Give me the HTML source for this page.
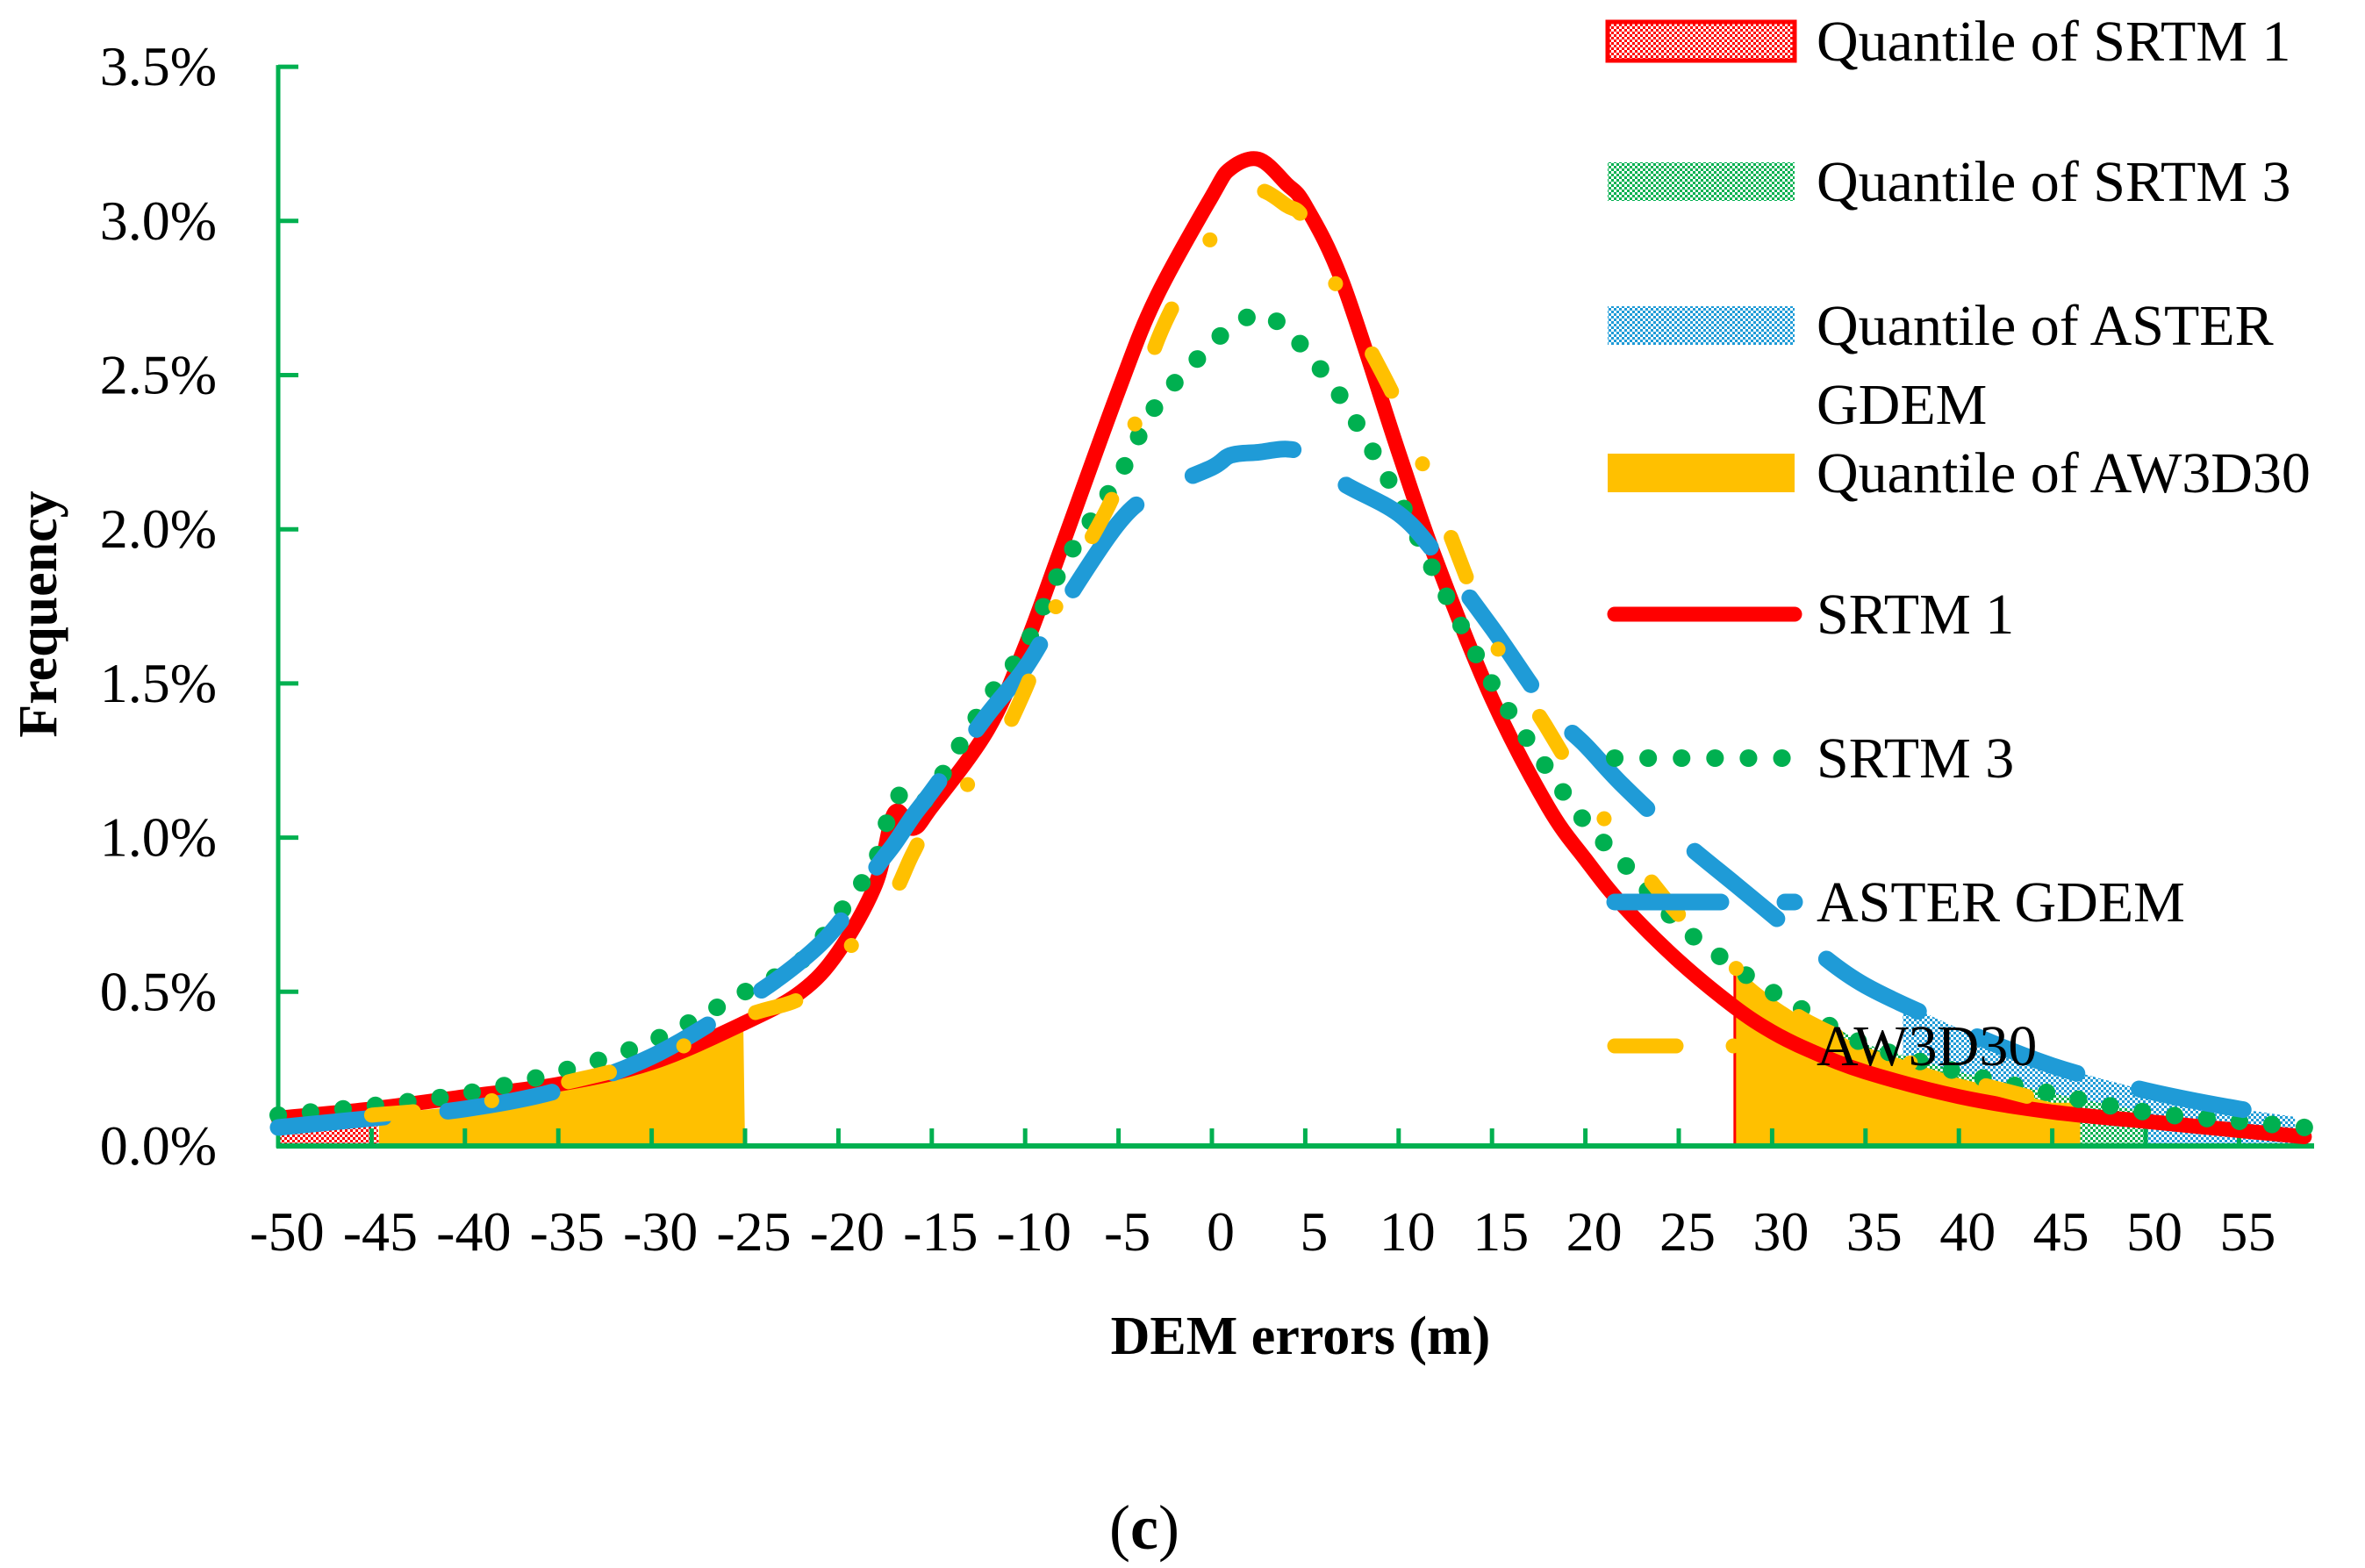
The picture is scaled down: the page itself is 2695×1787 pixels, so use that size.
<!DOCTYPE html>
<html><head><meta charset="utf-8"><title>DEM errors frequency (c)</title>
<style>
html,body{margin:0;padding:0;background:#fff;}
svg{display:block;}
text{font-family:"Liberation Serif","DejaVu Serif",serif;}
</style></head>
<body>
<svg id="chart" width="2695" height="1787" viewBox="0 0 2695 1787" xmlns="http://www.w3.org/2000/svg" font-family="'Liberation Serif', 'DejaVu Serif', serif">
<defs>
<pattern id="hatchRed" width="6" height="6" patternUnits="userSpaceOnUse"><rect width="6" height="6" fill="#fff"/><rect width="3" height="3" fill="#f00"/><rect x="3" y="3" width="3" height="3" fill="#f00"/></pattern>
<pattern id="hatchGreen" width="6" height="6" patternUnits="userSpaceOnUse"><rect width="6" height="6" fill="#fff"/><rect width="3" height="3" fill="#00b050"/><rect x="3" y="3" width="3" height="3" fill="#00b050"/></pattern>
<pattern id="hatchBlue" width="6" height="6" patternUnits="userSpaceOnUse"><rect width="6" height="6" fill="#fff"/><rect width="3" height="3" fill="#1f9bd7"/><rect x="3" y="3" width="3" height="3" fill="#1f9bd7"/></pattern>
</defs>
<g id="fills"></g>
<g id="axes"></g>
<g id="series"></g>
<g id="legend"></g>
<text x="0" y="0" transform="translate(64,700) rotate(-90)" text-anchor="middle" font-size="62" font-weight="bold">Frequency</text>
<text x="1482" y="1543" text-anchor="middle" font-size="62" font-weight="bold">DEM errors (m)</text>
<text x="1304" y="1765" text-anchor="middle" font-size="72">(<tspan font-weight="bold">c</tspan>)</text>
</svg>
<script>
const xVals = [-50,-45,-40,-35,-30,-25,-22,-20,-18,-17,-16,-15,-12,-10,-8,-5,-3,0,1,2.5,4,5,7,10,12,15,18,20,22,25,28,30,32,35,40,45,50,55,58.5];
const srtm1 = [0.09,0.12,0.16,0.2,0.27,0.4,0.5,0.63,0.85,1.08,1.03,1.1,1.35,1.62,1.95,2.45,2.75,3.08,3.17,3.2,3.12,3.05,2.8,2.25,1.9,1.45,1.1,0.93,0.78,0.6,0.45,0.37,0.31,0.24,0.16,0.11,0.08,0.05,0.03];
const srtm3 = [0.1,0.13,0.17,0.24,0.34,0.5,0.6,0.75,0.93,1.13,1.1,1.15,1.45,1.62,1.88,2.17,2.4,2.6,2.65,2.7,2.65,2.58,2.42,2.1,1.85,1.5,1.22,1.05,0.92,0.72,0.58,0.5,0.43,0.33,0.24,0.17,0.11,0.08,0.06];
const aster = [0.06,0.09,0.12,0.18,0.29,0.47,0.6,0.72,0.9,0.98,1.07,1.15,1.4,1.55,1.75,2.02,2.12,2.2,2.24,2.25,2.26,2.24,2.15,2.05,1.92,1.68,1.42,1.3,1.17,1.0,0.85,0.75,0.65,0.52,0.38,0.26,0.18,0.12,0.09];
const aw3d30 = [null,0.1,0.13,0.2,0.28,0.42,0.48,0.6,0.75,0.82,0.95,1.05,1.25,1.48,1.8,2.15,2.6,2.95,3.05,3.1,3.05,3.0,2.75,2.4,2.1,1.65,1.35,1.15,0.98,0.75,0.58,0.48,0.4,0.32,0.22,0.14,null,null,null];
const yTicks = [0,0.5,1,1.5,2,2.5,3,3.5];
const yTickLabels = ["0.0%","0.5%","1.0%","1.5%","2.0%","2.5%","3.0%","3.5%"];
const xTicks = [-50,-45,-40,-35,-30,-25,-20,-15,-10,-5,0,5,10,15,20,25,30,35,40,45,50,55];
const xTickLabels = ["-50","-45","-40","-35","-30","-25","-20","-15","-10","-5","0","5","10","15","20","25","30","35","40","45","50","55"];
const legendLabels = ["Quantile of SRTM 1","Quantile of SRTM 3","Quantile of ASTER","Quantile of AW3D30","SRTM 1","SRTM 3","ASTER GDEM","AW3D30"];
const q1Ranges = [[-50,-44.6],[28,46.5]];
const q3Ranges = [[-50,-44.6],[33,50]];
const qAsterRanges = [[-50,-44.6],[37,58]];
const qAwRanges = [[-44.6,-25],[28,46.5]];

const NS = "http://www.w3.org/2000/svg";
const X0 = 317, XU = 21.28, Y0 = 1306, YU = 351.4;
const xs = v => X0 + (v + 50) * XU;
const ys = p => Y0 - p * YU;
function mk(tag, attrs, parent){const e=document.createElementNS(NS,tag);for(const k in attrs)e.setAttribute(k,attrs[k]);parent.appendChild(e);return e;}

function interp(arr, v){
  for(let i=0;i<xVals.length-1;i++){
    if(v>=xVals[i]&&v<=xVals[i+1]){
      let a=arr[i],b=arr[i+1];
      if(a==null)a=b; if(b==null)b=a;
      const t=(v-xVals[i])/(xVals[i+1]-xVals[i]);return a+(b-a)*t;
    }
  }
  return arr[arr.length-1];
}
function smoothPath(pts){
  let d="M"+pts[0][0].toFixed(1)+","+pts[0][1].toFixed(1);
  for(let i=0;i<pts.length-1;i++){
    const p0=pts[i-1]||pts[i],p1=pts[i],p2=pts[i+1],p3=pts[i+2]||p2;
    const c1=[p1[0]+(p2[0]-p0[0])/6,p1[1]+(p2[1]-p0[1])/6];
    const c2=[p2[0]-(p3[0]-p1[0])/6,p2[1]-(p3[1]-p1[1])/6];
    d+="C"+c1[0].toFixed(1)+","+c1[1].toFixed(1)+" "+c2[0].toFixed(1)+","+c2[1].toFixed(1)+" "+p2[0].toFixed(1)+","+p2[1].toFixed(1);
  }
  return d;
}
function seriesPts(arr){const p=[];xVals.forEach((x,i)=>{if(arr[i]!=null)p.push([xs(x),ys(arr[i])]);});return p;}

const fills=document.getElementById("fills");
function areaPath(arr, a, b){
  let d="M"+xs(a)+","+Y0;
  for(let v=a; v<=b+0.001; v+=0.25){d+="L"+xs(v).toFixed(1)+","+ys(interp(arr,v)).toFixed(1);}
  d+="L"+xs(b)+","+Y0+"Z";return d;
}
qAsterRanges.forEach(r=>{const e=mk("path",{d:areaPath(aster,r[0],r[1]),fill:"url(#hatchBlue)"},fills);

});
q3Ranges.forEach(r=>{const e=mk("path",{d:areaPath(srtm3,r[0],r[1]),fill:"url(#hatchGreen)"},fills);

});
q1Ranges.forEach(r=>{const e=mk("path",{d:areaPath(srtm1,r[0],r[1]),fill:"url(#hatchRed)"},fills);

});
qAwRanges.forEach(r=>{const e=mk("path",{d:areaPath(aw3d30,r[0],r[1]),fill:"#ffc000",stroke:"none"},fills);

});
{const e=mk("line",{x1:xs(28),y1:Y0,x2:xs(28),y2:ys(interp(aw3d30,28)),stroke:"#f00","stroke-width":3},fills);

}

const axes=document.getElementById("axes");
{const e=mk("line",{x1:X0,y1:ys(3.5)-2,x2:X0,y2:Y0+2,stroke:"#00b050","stroke-width":5},axes);

}
{const e=mk("line",{x1:X0-2,y1:Y0,x2:2637,y2:Y0,stroke:"#00b050","stroke-width":6},axes);

}
yTicks.forEach((t,i)=>{
  const e=mk("line",{x1:X0,y1:ys(t),x2:X0+23,y2:ys(t),stroke:"#00b050","stroke-width":5},axes);
  
  
  const l=mk("text",{x:247,y:ys(t)+21,"text-anchor":"end","font-size":64},axes);
  
  
  l.textContent=yTickLabels[i];
});
xTicks.forEach((t,i)=>{
  if(i>0){const e=mk("line",{x1:xs(t),y1:Y0,x2:xs(t),y2:Y0-20,stroke:"#00b050","stroke-width":5},axes);
  
  }
  const l=mk("text",{x:xs(t)+10,y:1425,"text-anchor":"middle","font-size":64},axes);
  
  
  l.textContent=xTickLabels[i];
});

const ser=document.getElementById("series");
function drawSeries(arr,name,attrs){
  const e=mk("path",Object.assign({d:smoothPath(seriesPts(arr)),fill:"none","stroke-linecap":"round","stroke-linejoin":"round"},attrs),ser);
  
  
}
drawSeries(srtm1,"srtm1-line",{stroke:"#ff0000","stroke-width":17});
drawSeries(srtm3,"srtm3-line",{stroke:"#00b050","stroke-width":20,"stroke-dasharray":"0.1,37"});
drawSeries(aster,"aster-gdem-line",{stroke:"#1f9bd7","stroke-width":19,"stroke-dasharray":"121,73"});
drawSeries(aw3d30,"aw3d30-line",{stroke:"#ffc000","stroke-width":17,"stroke-dasharray":"48,90,0.1,90"});

const lg=document.getElementById("legend");
const rowY=[47,207,371,539,700,864,1028,1192];
const sw=[1832,2045];
function addText(txt,y,name){const t=mk("text",{x:2070,y:y+22,"font-size":66},lg);


t.textContent=txt;return t;}
[["url(#hatchRed)","#f00"],["url(#hatchGreen)",null],["url(#hatchBlue)",null],["#ffc000",null]].forEach((f,i)=>{
  const r=mk("rect",{x:sw[0],y:rowY[i]-22,width:sw[1]-sw[0],height:44,fill:f[0],stroke:f[1]||"none","stroke-width":f[1]?5:0},lg);
  
  
  addText(legendLabels[i],rowY[i],'legend-label');
});
{const t=mk("text",{x:2070,y:483,"font-size":66},lg);


t.textContent="GDEM";}
const lineStyles=[
 {stroke:"#ff0000","stroke-width":17,"stroke-linecap":"round"},
 {stroke:"#00b050","stroke-width":20,"stroke-linecap":"round","stroke-dasharray":"0.1,38"},
 {stroke:"#1f9bd7","stroke-width":19,"stroke-linecap":"round","stroke-dasharray":"121,73"},
 {stroke:"#ffc000","stroke-width":17,"stroke-linecap":"round","stroke-dasharray":"70,65,0.1,90"}];
lineStyles.forEach((s,i)=>{
  const l=mk("line",Object.assign({x1:1840,y1:rowY[i+4],x2:2045,y2:rowY[i+4]},s),lg);
  
  
  addText(legendLabels[i+4],rowY[i+4],'legend-label');
});
</script>
</body></html>
